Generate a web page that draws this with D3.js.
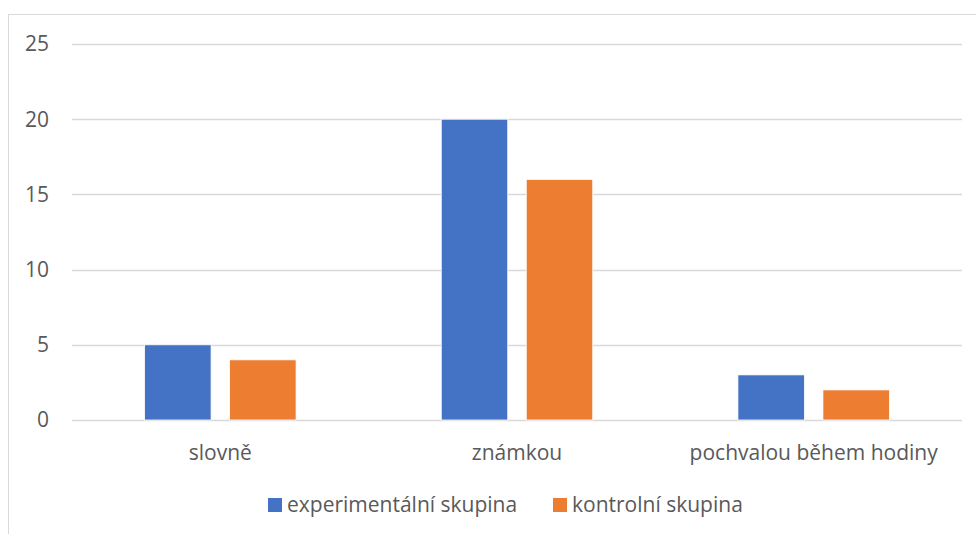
<!DOCTYPE html>
<html>
<head>
<meta charset="utf-8">
<script src="https://cdn.jsdelivr.net/npm/d3@7.9.0/dist/d3.min.js"></script>
<style>
  body { margin: 0; background: #fff; }
  text { font-family: "Open Sans", "Liberation Sans", sans-serif; fill: #595959; }
</style>
</head>
<body>
<svg id="chart" width="976" height="534"></svg>
<script>
// data
const categories = ["slovně", "známkou", "pochvalou během hodiny"];
const seriesNames = ["experimentální skupina", "kontrolní skupina"];
const experimental = [5, 20, 3];
const control = [4, 16, 2];
const yTicks = [0, 5, 10, 15, 20, 25];
const colors = ["#4472C4", "#ED7D31"];

const svg = d3.select("#chart");

// chart frame
svg.append("rect")
   .attr("x", 8.5).attr("y", 14.5)
   .attr("width", 1000).attr("height", 600)
   .attr("fill", "none")
   .attr("stroke", "#d9d9d9");

const plotLeft = 72, plotRight = 962, plotTop = 44, plotBottom = 420;

let x = d3.scaleBand().domain(categories).range([plotLeft, plotRight]);
let y = d3.scaleLinear().domain([0, 25]).range([plotBottom, plotTop]);

// gridlines
svg.append("g").selectAll("line")
   .data(yTicks)
   .enter()
   .append("line")
   .attr("x1", plotLeft).attr("x2", plotRight)
   .attr("y1", d => Math.round(y(d)) + 0.5)
   .attr("y2", d => Math.round(y(d)) + 0.5)
   .attr("stroke", "#d9d9d9")
   .attr("stroke-width", 1.3);

// y tick labels
svg.append("g").selectAll("text")
   .data(yTicks)
   .enter()
   .append("text")
   .attr("x", 49)
   .attr("y", d => y(d))
   .attr("dy", "0.35em")
   .attr("text-anchor", "end")
   .style("font-size", "21px")
   .text(d => d);

// bars
let barW = 66.5, gap = 18.5;
let x1 = d3.scaleBand().domain([0, 1])
   .range([-(barW + gap / 2), barW + gap / 2])
   .paddingInner(gap / (barW + gap));
let rows = categories.map((c, i) => ({ cat: c, values: [experimental[i], control[i]] }));

let groups = svg.append("g").selectAll("g")
   .data(rows)
   .enter()
   .append("g")
   .attr("transform", d => `translate(${x(d.cat) + x.bandwidth() / 2},0)`);

groups.selectAll("rect")
   .data(d => d.values.map((v, j) => ({ v, j })))
   .enter()
   .append("rect")
   .attr("x", d => x1(d.j))
   .attr("width", x1.bandwidth())
   .attr("y", d => y(d.v))
   .attr("height", d => y(0) - y(d.v))
   .attr("fill", d => colors[d.j])
   .attr("stroke", "#fff")
   .attr("stroke-width", 0.8);

// category labels
svg.append("g").selectAll("text")
   .data(categories)
   .enter()
   .append("text")
   .attr("x", d => x(d) + x.bandwidth() / 2)
   .attr("y", 453)
   .attr("dy", "0.35em")
   .attr("text-anchor", "middle")
   .style("font-size", "21px")
   .text(d => d);

// legend
let legendX = [268, 553];
let legend = svg.append("g").selectAll("g")
   .data(seriesNames)
   .enter()
   .append("g")
   .attr("transform", (d, i) => `translate(${legendX[i]},498)`);

legend.append("rect")
   .attr("width", 14).attr("height", 14)
   .attr("fill", (d, i) => colors[i]);

legend.append("text")
   .attr("x", 19)
   .attr("y", 7)
   .attr("dy", "0.35em")
   .style("font-size", "21px")
   .text(d => d);
</script>
</body>
</html>
